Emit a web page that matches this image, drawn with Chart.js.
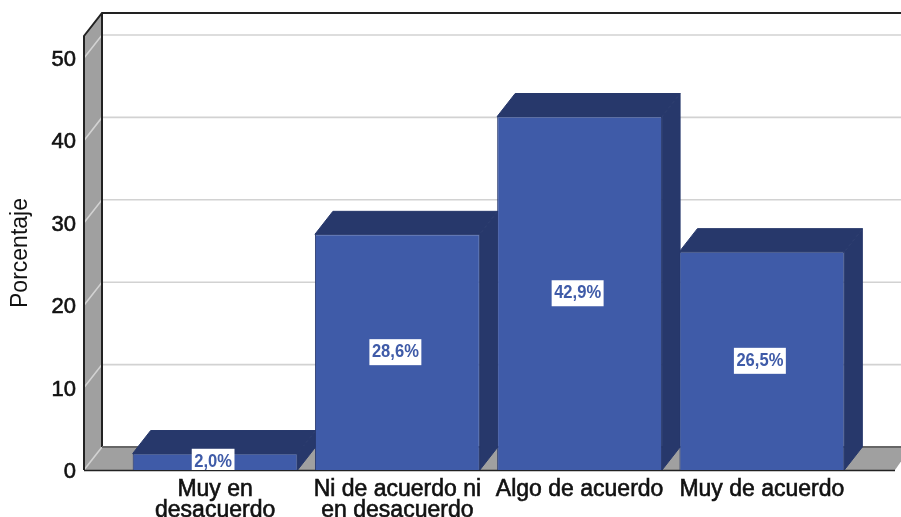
<!DOCTYPE html>
<html><head><meta charset="utf-8">
<style>html,body{margin:0;padding:0;background:#fff}canvas{display:block}</style>
<script src="https://cdn.jsdelivr.net/npm/chart.js@4"></script>
</head><body><canvas id="c" width="901" height="517"></canvas>
<script>
const categories = [['Muy en','desacuerdo'],['Ni de acuerdo ni','en desacuerdo'],'Algo de acuerdo','Muy de acuerdo'];
const values = [2.0,28.6,42.9,26.5];
const valueLabels = ['2,0%','28,6%','42,9%','26,5%'];
const yTicks = [0,10,20,30,40,50];
const yTitle = 'Porcentaje';

const DX=18, DY=23, WALL_LEFT=40, FLOOR_RIGHT=42;
const FRONT='#3F5BA8', DARK='#27386B', WALL='#A0A0A0', EDGE='#222222', GRID='#D2D2D2';

function poly(ctx,pts,fill,stroke,lw){
  ctx.beginPath();pts.forEach((p,i)=>i?ctx.lineTo(p[0],p[1]):ctx.moveTo(p[0],p[1]));ctx.closePath();
  if(fill){ctx.fillStyle=fill;ctx.fill();}
  if(stroke){ctx.strokeStyle=stroke;ctx.lineWidth=lw||1;ctx.stroke();}
}
const box3d={
  id:'box3d',
  beforeDatasetsDraw(chart){
    const {ctx,chartArea:a,scales:{y}}=chart, W=chart.width;
    const L=a.left-WALL_LEFT, B=a.bottom, T=a.top, R=a.right+FLOOR_RIGHT;
    ctx.save();
    poly(ctx,[[L,B],[L,T],[L+DX,T-DY],[L+DX,B-DY]],WALL);
    poly(ctx,[[L,B],[L+DX,B-DY],[W+10,B-DY],[R,B]],WALL);
    ctx.strokeStyle=GRID;ctx.lineWidth=1.6;
    yTicks.forEach(v=>{
      const p=y.getPixelForValue(v);
      ctx.beginPath();ctx.moveTo(L,p);ctx.lineTo(L+DX,p-DY);
      if(v>0)ctx.lineTo(W,p-DY);
      ctx.stroke();
    });
    ctx.strokeStyle=EDGE;ctx.lineWidth=2;
    ctx.beginPath();ctx.moveTo(L,B);ctx.lineTo(L,T);ctx.lineTo(L+DX,T-DY);ctx.lineTo(W,T-DY);ctx.stroke();
    ctx.beginPath();ctx.moveTo(L+DX,T-DY);ctx.lineTo(L+DX,B-DY);ctx.stroke();
    ctx.strokeStyle='#666';
    ctx.beginPath();ctx.moveTo(L+DX,B-DY);ctx.lineTo(W,B-DY);ctx.stroke();
    ctx.strokeStyle=EDGE;ctx.lineWidth=1.5;
    ctx.beginPath();ctx.moveTo(L,B+0.5);ctx.lineTo(R,B+0.5);ctx.stroke();
    chart.getDatasetMeta(0).data.forEach(b=>{
      const l=b.x-b.width/2,r=b.x+b.width/2,t=b.y,bt=b.base;
      poly(ctx,[[r,bt],[r,t],[r+DX,t-DY],[r+DX,bt-DY]],DARK,DARK,1);
      poly(ctx,[[l,t],[l+DX,t-DY],[r+DX,t-DY],[r,t]],DARK,DARK,1);
    });
    ctx.restore();
  },
  afterDatasetsDraw(chart){
    const {ctx}=chart;
    ctx.save();
    ctx.font='bold 18px "Liberation Sans"';ctx.textAlign='center';ctx.textBaseline='middle';
    const sx=0.92;
    chart.getDatasetMeta(0).data.forEach((b,i)=>{
      const cx=b.x-2, cy=(b.y+b.base)/2, s=valueLabels[i];
      const w=ctx.measureText(s).width*sx+5, top=cy-13, bot=Math.min(cy+13,b.base);
      ctx.fillStyle='#fff';ctx.fillRect(cx-w/2,top,w,bot-top);
      ctx.save();ctx.translate(cx,cy);ctx.scale(sx,1);
      ctx.fillStyle=FRONT;ctx.fillText(s,0,0);
      ctx.restore();
    });
    ctx.restore();
  }
};
new Chart(document.getElementById('c'),{
  type:'bar',
  data:{labels:categories,datasets:[{data:values,backgroundColor:FRONT,borderColor:DARK,borderWidth:1,barPercentage:0.905,categoryPercentage:1}]},
  plugins:[box3d],
  options:{
    responsive:false,animation:false,
    layout:{padding:{top:36,right:48,left:0,bottom:0}},
    plugins:{legend:{display:false},tooltip:{enabled:false},title:{display:false}},
    scales:{
      x:{
        grid:{display:false,drawTicks:false},border:{display:false},
        ticks:{color:'#111',textStrokeColor:'#111',textStrokeWidth:0.6,font:{family:'"Liberation Sans"',size:23,lineHeight:0.913},padding:9,maxRotation:0,minRotation:0,autoSkip:false},
        afterFit(s){s.height=47;s.paddingLeft=0;s.paddingRight=0;}
      },
      y:{
        min:0,max:52.67,
        grid:{display:false,drawTicks:false},border:{display:false},
        afterBuildTicks(s){s.ticks=yTicks.map(v=>({value:v}));},
        ticks:{color:'#111',textStrokeColor:'#111',textStrokeWidth:0.6,font:{family:'"Liberation Sans"',size:22},padding:48,includeBounds:false,stepSize:10},
        title:{display:true,text:yTitle,color:'#111',font:{family:'"Liberation Sans"',size:23},padding:{top:7,bottom:0}},
        afterFit(s){
          s.width=124;s.paddingTop=0;s.paddingBottom=0;
          if(!s._shifted){
            s._shifted=true;
            const orig=s.drawLabels;
            s.drawLabels=function(area){const c=this.ctx;c.save();c.translate(0,2);orig.call(this,area);c.restore();};
          }
        }
      }
    }
  }
});
</script></body></html>
